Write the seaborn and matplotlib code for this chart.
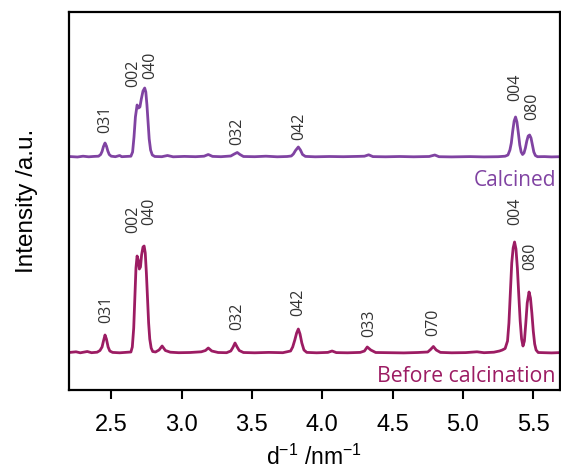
import numpy as np
import pandas as pd
import matplotlib
matplotlib.use("Agg")
import matplotlib.pyplot as plt
import seaborn as sns

# --- data (x in nm^-1, intensity in a.u. above each baseline) ---
calcined_x = [2.20, 2.26, 2.30, 2.34, 2.38, 2.41, 2.425, 2.435, 2.445, 2.456, 2.466, 2.476,
              2.486, 2.50, 2.53, 2.56, 2.575, 2.60, 2.64, 2.652, 2.662, 2.672, 2.684, 2.694,
              2.704, 2.714, 2.726, 2.738, 2.746, 2.754, 2.762, 2.770, 2.780, 2.792, 2.81,
              2.86, 2.90, 2.94, 3.02, 3.10, 3.16, 3.19, 3.22, 3.28, 3.35, 3.375, 3.396,
              3.415, 3.44, 3.52, 3.60, 3.68, 3.75, 3.78, 3.795, 3.81, 3.83, 3.845, 3.86,
              3.88, 3.95, 4.05, 4.15, 4.25, 4.30, 4.33, 4.36, 4.45, 4.55, 4.65, 4.76,
              4.80, 4.83, 4.92, 5.05, 5.15, 5.25, 5.30, 5.32, 5.334, 5.344, 5.354, 5.364,
              5.374, 5.384, 5.394, 5.404, 5.414, 5.424, 5.434, 5.444, 5.454, 5.464, 5.474,
              5.484, 5.494, 5.504, 5.515, 5.53, 5.58, 5.63, 5.69]
calcined_y = [0.5, 0.0, 0.8, 0.2, 0.6, 0.8, 2.5, 5.5, 10.5, 14.0, 11.0, 6.0,
              2.5, 0.8, 0.3, 1.5, 0.3, 0.5, 0.8, 5.0, 20.0, 40.0, 52.0, 49.0,
              50.0, 58.0, 66.0, 69.0, 65.0, 52.0, 35.0, 18.0, 7.0, 2.0, 0.5,
              0.3, 1.5, 0.2, 0.6, 0.3, 0.8, 2.5, 0.6, 0.3, 1.0, 3.0, 4.5,
              2.5, 0.5, 0.3, 0.8, 0.2, 0.5, 1.0, 3.0, 6.5, 10.0, 7.0, 2.5,
              0.6, 0.2, 0.5, 0.3, 0.6, 0.8, 2.2, 0.4, 0.2, 0.5, 0.2, 0.5,
              2.0, 0.3, 0.1, 0.4, 0.1, 0.3, 0.8, 2.0, 7.0, 14.0, 26.0, 36.0,
              40.0, 35.0, 24.0, 12.0, 5.0, 2.5, 4.0, 9.0, 16.0, 21.0, 22.0,
              19.0, 12.0, 5.0, 1.5, 0.3, 0.4, 0.1, 0.3]

before_x = [2.20, 2.25, 2.28, 2.33, 2.36, 2.40, 2.42, 2.435, 2.445, 2.456, 2.466, 2.478,
            2.49, 2.51, 2.56, 2.60, 2.64, 2.650, 2.660, 2.668, 2.676, 2.684, 2.692, 2.700,
            2.708, 2.716, 2.726, 2.734, 2.742, 2.750, 2.758, 2.766, 2.774, 2.784, 2.795,
            2.815, 2.84, 2.862, 2.885, 2.92, 2.98, 3.06, 3.14, 3.17, 3.19, 3.215, 3.26,
            3.32, 3.35, 3.365, 3.38, 3.395, 3.41, 3.44, 3.52, 3.62, 3.72, 3.775, 3.79,
            3.805, 3.818, 3.83, 3.842, 3.855, 3.87, 3.89, 3.96, 4.04, 4.07, 4.10, 4.18,
            4.27, 4.30, 4.32, 4.345, 4.38, 4.48, 4.58, 4.68, 4.75, 4.77, 4.79, 4.81,
            4.84, 4.92, 5.02, 5.10, 5.15, 5.22, 5.26, 5.28, 5.30, 5.317, 5.327, 5.337,
            5.347, 5.357, 5.367, 5.377, 5.387, 5.397, 5.407, 5.417, 5.427, 5.437, 5.447,
            5.457, 5.470, 5.480, 5.490, 5.500, 5.510, 5.520, 5.535, 5.58, 5.63, 5.69]
before_y = [0.5, 1.2, 0.2, 1.5, 0.3, 0.8, 2.5, 6.0, 12.0, 18.0, 14.0, 6.0,
            2.0, 0.6, 0.2, 0.6, 1.0, 6.0, 25.0, 55.0, 85.0, 97.0, 93.0, 84.0,
            86.0, 98.0, 106.0, 107.0, 100.0, 80.0, 55.0, 30.0, 14.0, 5.0, 1.5,
            1.0, 3.0, 7.0, 2.5, 0.8, 0.3, 0.5, 1.2, 2.5, 5.0, 2.0, 0.5,
            0.3, 2.0, 5.5, 10.0, 6.0, 2.5, 0.5, 0.2, 0.6, 0.3, 2.0, 6.0,
            13.0, 20.0, 24.0, 19.0, 10.0, 3.0, 0.6, 0.2, 0.6, 2.0, 0.4, 0.2,
            0.6, 2.0, 6.0, 3.0, 0.5, 0.3, 0.1, 0.5, 1.0, 3.5, 6.5, 3.0,
            0.6, 0.2, 0.4, 1.2, 0.3, 0.8, 2.0, 3.0, 4.5, 12.0, 30.0, 60.0,
            90.0, 105.0, 111.0, 104.0, 85.0, 58.0, 32.0, 14.0, 7.0, 12.0, 30.0,
            50.0, 61.0, 55.0, 40.0, 22.0, 9.0, 3.0, 0.5, 0.3, 0.1, 0.4]

# reflection labels (name, label x, label height above baseline)
calcined_hkl = ["031", "002", "040", "032", "042", "004", "080"]
calcined_hkl_x = [2.456, 2.656, 2.777, 3.396, 3.837, 5.374, 5.495]
calcined_hkl_h = [24, 70, 78, 12, 17, 56, 37]

before_hkl = ["031", "002", "040", "032", "042", "033", "070", "004", "080"]
before_hkl_x = [2.463, 2.656, 2.769, 3.396, 3.830, 4.335, 4.790, 5.374, 5.481]
before_hkl_h = [30, 120, 128, 23, 37, 16, 17, 128, 83]

# vertical stacking offsets
calcined_offset = 233
before_offset = 37

PURPLE = "#8043a2"
MAGENTA = "#9c1c63"

sns.set_theme(style="white")
plt.rcParams["font.family"] = ["Liberation Sans", "DejaVu Sans"]
plt.rcParams["mathtext.default"] = "regular"

fig = plt.figure(figsize=(5.61, 4.72), dpi=100)
ax = fig.add_axes([69 / 561, 1 - 390 / 472, 491 / 561, 378 / 472])

calc_df = pd.DataFrame({"x": calcined_x, "y": np.array(calcined_y) + calcined_offset})
before_df = pd.DataFrame({"x": before_x, "y": np.array(before_y) + before_offset})

sns.lineplot(data=calc_df, x="x", y="y", ax=ax, color=PURPLE, lw=2.0, sort=False)
sns.lineplot(data=before_df, x="x", y="y", ax=ax, color=MAGENTA, lw=2.0, sort=False)

label_font = ["Open Sans", "DejaVu Sans"]
for name, lx, lh in zip(calcined_hkl, calcined_hkl_x, calcined_hkl_h):
    ax.text(lx, lh + calcined_offset, name, rotation=90, ha="center", va="bottom",
            fontsize=11.5, color="#333333", family=label_font)
for name, lx, lh in zip(before_hkl, before_hkl_x, before_hkl_h):
    ax.text(lx, lh + before_offset, name, rotation=90, ha="center", va="bottom",
            fontsize=11.5, color="#333333", family=label_font)

ax.text(5.66, calcined_offset - 29, "Calcined", ha="right", va="baseline",
        fontsize=15, color=PURPLE, family=label_font)
ax.text(5.66, before_offset - 29, "Before calcination", ha="right", va="baseline",
        fontsize=15.3, color=MAGENTA, family=label_font)

ax.set_xlim(2.2, 5.69)
ax.set_ylim(0, 378)
ax.set_xticks([2.5, 3.0, 3.5, 4.0, 4.5, 5.0, 5.5])
ax.set_xticklabels(["2.5", "3.0", "3.5", "4.0", "4.5", "5.0", "5.5"])
ax.set_yticks([])
ax.tick_params(axis="x", direction="out", length=6.5, width=1.5, color="black",
               labelsize=17, labelcolor="black", pad=11, bottom=True)
for sp in ax.spines.values():
    sp.set_color("black")
    sp.set_linewidth(1.6)

ax.set_xlabel(r"d$^{-1}$ /nm$^{-1}$", fontsize=16.5, labelpad=6, color="black")
ax.set_ylabel("Intensity /a.u.", fontsize=17.5, labelpad=22, color="black")

fig.savefig("out.png", dpi=100)
